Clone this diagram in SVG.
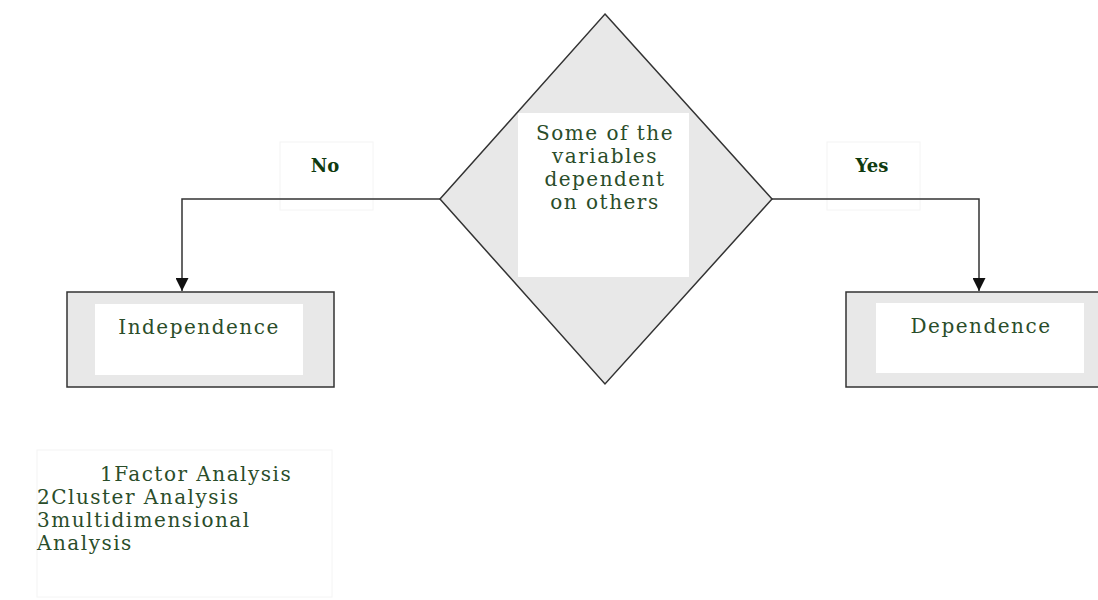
<svg xmlns="http://www.w3.org/2000/svg" width="1098" height="600" viewBox="0 0 1098 600">
<style>
.t{font-family:"DejaVu Serif","Liberation Serif",serif;font-size:20px;letter-spacing:1.5px;fill:#2a4d2a}
.b{font-family:"DejaVu Serif","Liberation Serif",serif;font-size:18px;font-weight:bold;fill:#0f3a0f}
.box{fill:#e8e8e8;stroke:#333;stroke-width:1.5}
.in{fill:#fff}
.conn{fill:none;stroke:#333;stroke-width:1.5}
.lbl{fill:#fff;stroke:#f4f4f4;stroke-width:1}
</style>
<defs>
<marker id="arr" viewBox="0 0 10 10" refX="10" refY="5" markerWidth="13" markerHeight="13" markerUnits="userSpaceOnUse" orient="auto">
<path d="M0,0 L10,5 L0,10 z" fill="#111"/>
</marker>
</defs>
<rect width="1098" height="600" fill="#fff"/>
<g id="label-no">
<rect class="lbl" x="280" y="142" width="93" height="68"/>
<text class="b" x="325" y="172" text-anchor="middle">No</text>
</g>
<g id="label-yes">
<rect class="lbl" x="827" y="142" width="93" height="68"/>
<text class="b" x="872" y="172" text-anchor="middle">Yes</text>
</g>
<g id="connectors">
<path class="conn" d="M441,199 H182 V291" marker-end="url(#arr)"/>
<path class="conn" d="M772,199 H979 V291" marker-end="url(#arr)"/>
</g>
<g id="decision">
<polygon class="box" points="605,14 772,199 605,384 440,199"/>
<rect class="in" x="518" y="113" width="171" height="164"/>
<text class="t" text-anchor="middle"><tspan x="605" y="140">Some of the</tspan><tspan x="605" y="163">variables</tspan><tspan x="605" y="186">dependent</tspan><tspan x="605" y="209">on others</tspan></text>
</g>
<g id="independence">
<rect class="box" x="67" y="292" width="267" height="95"/>
<rect class="in" x="95" y="304" width="208" height="71"/>
<text class="t" x="199" y="334" text-anchor="middle">Independence</text>
</g>
<g id="dependence">
<rect class="box" x="846" y="292" width="260" height="95"/>
<rect class="in" x="876" y="303" width="208" height="70"/>
<text class="t" x="981" y="333" text-anchor="middle">Dependence</text>
</g>
<g id="methods">
<rect x="37" y="450" width="295" height="147" fill="#fff" stroke="#f4f4f4"/>
<text class="t"><tspan x="100" y="481">1Factor Analysis</tspan><tspan x="37" y="504">2Cluster Analysis</tspan><tspan x="37" y="527">3multidimensional</tspan><tspan x="37" y="550">Analysis</tspan></text>
</g>
</svg>
